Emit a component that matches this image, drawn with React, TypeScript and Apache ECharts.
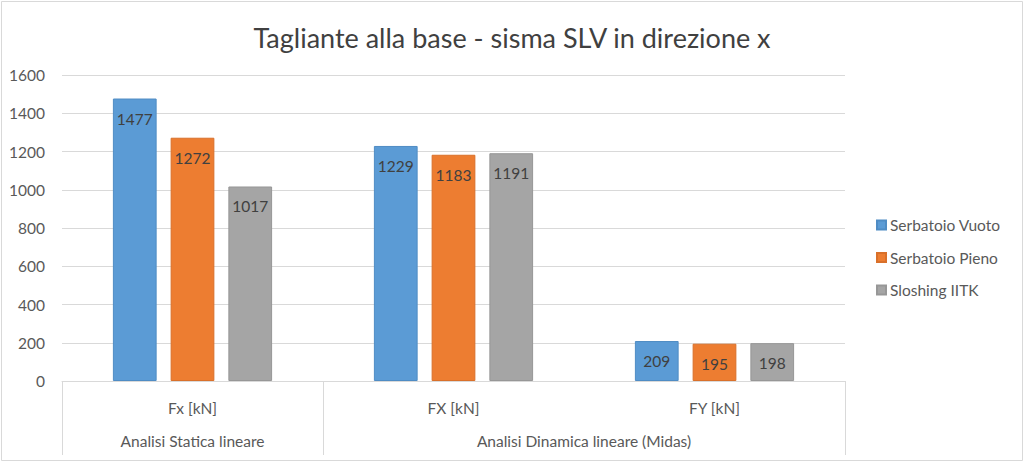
import React, { useEffect, useRef } from "react";
import * as echarts from "echarts";

const TITLE = "Tagliante alla base - sisma SLV in direzione x";
const categories = ["Fx [kN]", "FX [kN]", "FY [kN]"];
const groups = [
  { name: "Analisi Statica lineare", span: 1 },
  { name: "Analisi Dinamica lineare (Midas)", span: 2 },
];
const seriesNames = ["Serbatoio Vuoto", "Serbatoio Pieno", "Sloshing IITK"];
const vuoto = [1477, 1229, 209];
const pieno = [1272, 1183, 195];
const sloshing = [1017, 1191, 198];
const colors = ["#5b9bd5", "#ed7d31", "#a5a5a5"];
const borders = ["#4f8cc4", "#d9702a", "#979797"];

const FONT = "Lato, 'Open Sans', sans-serif";
const FS = 15.5;

export default function App() {
  const ref = useRef<HTMLDivElement>(null);
  useEffect(() => {
    document.body.style.margin = "0";
    const chart = echarts.init(ref.current!, null, { renderer: "svg" });
    const values = [vuoto, pieno, sloshing];
    const option: any = {
      animation: false,
      textStyle: { fontFamily: FONT },
      title: {
        text: TITLE,
        left: "center",
        top: 19,
        textStyle: { fontFamily: FONT, fontSize: 27, fontWeight: "normal", color: "#404040" },
      },
      legend: {
        orient: "vertical",
        left: 871,
        top: 212,
        itemWidth: 9,
        itemHeight: 9,
        itemGap: 16.5,
        icon: "rect",
        textStyle: { fontFamily: FONT, fontSize: FS, color: "#595959", padding: [0, 0, 0, -1] },
        data: seriesNames,
      },
      grid: { left: 62, right: 179, top: 75, bottom: 82 },
      xAxis: {
        type: "category",
        data: categories,
        axisLine: { lineStyle: { color: "#d9d9d9" } },
        axisTick: { show: false },
        axisLabel: { margin: 19, fontSize: FS, color: "#595959", fontFamily: FONT },
      },
      yAxis: {
        type: "value",
        min: 0,
        max: 1600,
        interval: 200,
        axisLine: { show: false },
        axisTick: { show: false },
        splitLine: { lineStyle: { color: "#d9d9d9" } },
        axisLabel: {
          margin: 17,
          fontSize: FS,
          color: "#595959",
          fontFamily: FONT,
          formatter: (v: number) => String(v),
        },
      },
      series: seriesNames.map((name, i) => ({
        name,
        type: "bar",
        data: values[i],
        barGap: "32%",
        barCategoryGap: "39%",
        itemStyle: { color: colors[i], borderColor: borders[i], borderWidth: 1 },
        label: {
          show: true,
          position: "insideTop",
          distance: 12,
          fontSize: FS,
          color: "#404040",
          fontFamily: FONT,
        },
      })),
    };
    chart.setOption(option);

    const c0 = chart.convertToPixel({ xAxisIndex: 0 }, categories[0]) as number;
    const c1 = chart.convertToPixel({ xAxisIndex: 0 }, categories[1]) as number;
    const bw = c1 - c0;
    const y0 = chart.convertToPixel({ yAxisIndex: 0 }, 0) as number;
    const left = c0 - bw / 2;
    const graphics: any[] = [
      {
        type: "rect",
        shape: { x: 1.5, y: 1.5, width: 1021, height: 459 },
        style: { fill: "none", stroke: "#d9d9d9", lineWidth: 1 },
        silent: true,
      },
    ];
    let idx = 0;
    const bounds = [0];
    groups.forEach((g) => {
      const start = left + idx * bw;
      const end = left + (idx + g.span) * bw;
      graphics.push({
        type: "text",
        x: (start + end) / 2,
        y: y0 + 60,
        style: {
          text: g.name,
          fontSize: FS,
          fontFamily: FONT,
          fill: "#595959",
          align: "center",
          verticalAlign: "middle",
        },
      });
      idx += g.span;
      bounds.push(idx);
    });
    bounds.forEach((b) => {
      const x = Math.round(left + b * bw) + 0.5;
      graphics.push({
        type: "line",
        shape: { x1: x, y1: y0, x2: x, y2: y0 + 74 },
        style: { stroke: "#d9d9d9", lineWidth: 1 },
        silent: true,
      });
    });
    chart.setOption({ graphic: graphics });
    return () => chart.dispose();
  }, []);
  return <div ref={ref} style={{ width: 1024, height: 463 }} />;
}
